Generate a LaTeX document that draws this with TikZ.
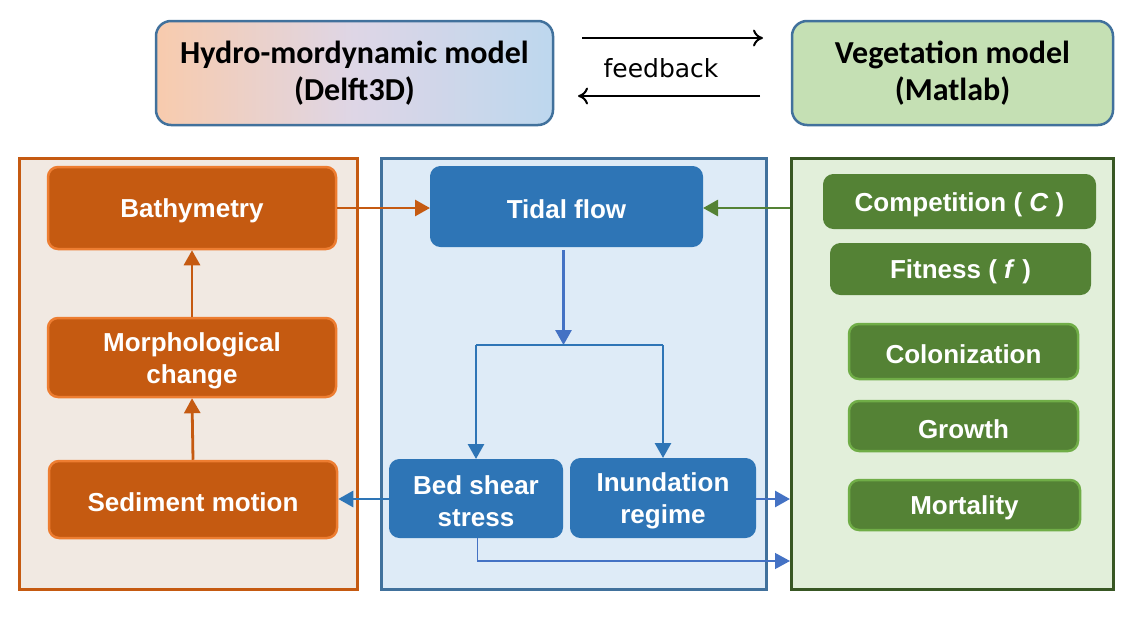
\documentclass[tikz,border=0pt]{standalone}
\usepackage{fontspec}
\setmainfont{Liberation Sans}
\newfontfamily\titlefont{Carlito}
\newfontfamily\fbfont{DejaVu Sans}
\usetikzlibrary{arrows.meta}
\definecolor{orfill}{HTML}{C55A11}
\definecolor{oredge}{HTML}{ED7D31}
\definecolor{orpanel}{HTML}{F1E9E2}
\definecolor{blpanel}{HTML}{DEEBF7}
\definecolor{bledge}{HTML}{41719C}
\definecolor{blfill}{HTML}{2E75B6}
\definecolor{blarrow}{HTML}{4472C4}
\definecolor{grpanel}{HTML}{E2EFDA}
\definecolor{gredge}{HTML}{385723}
\definecolor{grfill}{HTML}{548235}
\definecolor{grlight}{HTML}{70AD47}
\definecolor{vegfill}{HTML}{C5E0B4}
\definecolor{peach}{HTML}{F8CBAD}
\definecolor{lblue}{HTML}{BDD7EE}
\definecolor{lav}{HTML}{DED6E6}
\tikzset{
  panel/.style={draw, line width=3pt, inner sep=0pt},
  lbl/.style={text=white, align=center, inner sep=0pt, yshift=-3pt,
    font=\bfseries\fontsize{26}{32}\selectfont},
  box/.style={rounded corners=10pt, inner sep=0pt},
  obox/.style={box, fill=orfill, draw=oredge, line width=2.5pt},
  bbox/.style={box, fill=blfill, draw=blfill, line width=1pt},
  gbox/.style={box, fill=grfill, draw=grfill, line width=1pt},
  glbox/.style={box, fill=grfill, draw=grlight, line width=2.5pt},
  tbox/.style={rounded corners=15pt, draw=bledge, line width=2.5pt, align=center,
    font=\titlefont\bfseries\fontsize{32}{37}\selectfont},
  conn/.style={line width=2.8pt, -{Triangle[length=15pt,width=16pt]}},
  fb/.style={line width=2pt, black, -{To[length=10pt,width=17pt]}}
}
\begin{document}
\begin{tikzpicture}[x=1pt,y=-1pt]
\useasboundingbox[fill=white] (0,0) rectangle (1133,619);
% top boxes
\node[tbox, left color=peach, right color=lblue, middle color=lav,
  minimum width=397pt, minimum height=104pt] (hydro) at (354.5,73)
  {Hydro-mordynamic model\\(Delft3D)};
\node[tbox, fill=vegfill, minimum width=321pt, minimum height=104pt] (veg) at (952.5,73)
  {Vegetation model\\(Matlab)};
\coordinate (fa1) at (582,38);
\coordinate (fa2) at (763,38);
\coordinate (fb1) at (760,96);
\coordinate (fb2) at (578,96);
\draw[fb] (fa1) -- (fa2);
\draw[fb] (fb1) -- (fb2);
\node[font=\fbfont\fontsize{25}{30}\selectfont] (feedback) at (661,68) {feedback};
% panels
\node[panel, draw=orfill, fill=orpanel, minimum width=338pt, minimum height=431pt] (lp) at (188.5,374) {};
\node[panel, draw=bledge, fill=blpanel, minimum width=385pt, minimum height=431pt] (mp) at (574,374) {};
\node[panel, draw=gredge, fill=grpanel, minimum width=322pt, minimum height=431pt] (gp) at (952.5,374) {};
% left boxes
\node[obox, minimum width=288pt, minimum height=82pt, label={[lbl]center:Bathymetry}] (bathy) at (192,208) {};
\node[obox, minimum width=288pt, minimum height=79pt, label={[lbl]center:{Morphological\\change}}] (morph) at (192,357.5) {};
\node[obox, minimum width=288pt, minimum height=77pt, label={[lbl]center:Sediment motion}] (sed) at (193,499.5) {};
% middle boxes
\node[bbox, minimum width=272pt, minimum height=80pt, label={[lbl]center:Tidal flow}] (tidal) at (566.5,206.5) {};
\node[bbox, minimum width=173pt, minimum height=78pt, label={[lbl]center:{Bed shear\\stress}}] (bed) at (476,498.5) {};
\node[bbox, minimum width=185pt, minimum height=79pt, label={[lbl]center:{Inundation\\regime}}] (inund) at (663,498) {};
% green boxes
\node[gbox, minimum width=272pt, minimum height=54pt, label={[lbl]center:{Competition ( \textit{C} )}}] (comp) at (959.5,201.5) {};
\node[gbox, minimum width=260pt, minimum height=51pt, label={[lbl]center:{Fitness ( \textit{f} )}}] (fit) at (960.5,269) {};
\node[glbox, minimum width=229pt, minimum height=55pt, label={[lbl]center:Colonization}] (col) at (963.5,351.5) {};
\node[glbox, minimum width=229pt, minimum height=50pt, label={[lbl]center:Growth}] (grow) at (963.5,426) {};
\node[glbox, minimum width=231pt, minimum height=50pt, label={[lbl]center:Mortality}] (mort) at (964.5,505) {};
% connectors
\draw[conn, orfill] (sed.north) -- (morph.south);
\draw[conn, orfill] (morph.north) -- (bathy.south);
\draw[conn, orfill] (bathy.east |- 0,208) -- (tidal.west |- 0,208);
\draw[conn, grfill] (gp.west |- 0,208) -- (tidal.east |- 0,208);
\coordinate (br) at (563.5,345);
\draw[conn, blarrow] (563.5,250) -- (br);
\draw[line width=2.8pt, blfill] (bed.north |- br) -- (inund.north |- br);
\draw[conn, blfill] (bed.north |- br) -- (bed.north);
\draw[conn, blfill] (inund.north |- br) -- (inund.north);
\draw[conn, blfill] (bed.west |- 0,499) -- (sed.east |- 0,499);
\draw[conn, blarrow] (inund.east |- 0,499) -- (gp.west |- 0,499);
\coordinate (bc) at (477.5,561);
\draw[line width=1.3pt, blarrow, -{Triangle[length=15pt,width=16pt]}] (bed.south -| bc) -- (bc) -- (gp.west |- bc);
\end{tikzpicture}
\end{document}
